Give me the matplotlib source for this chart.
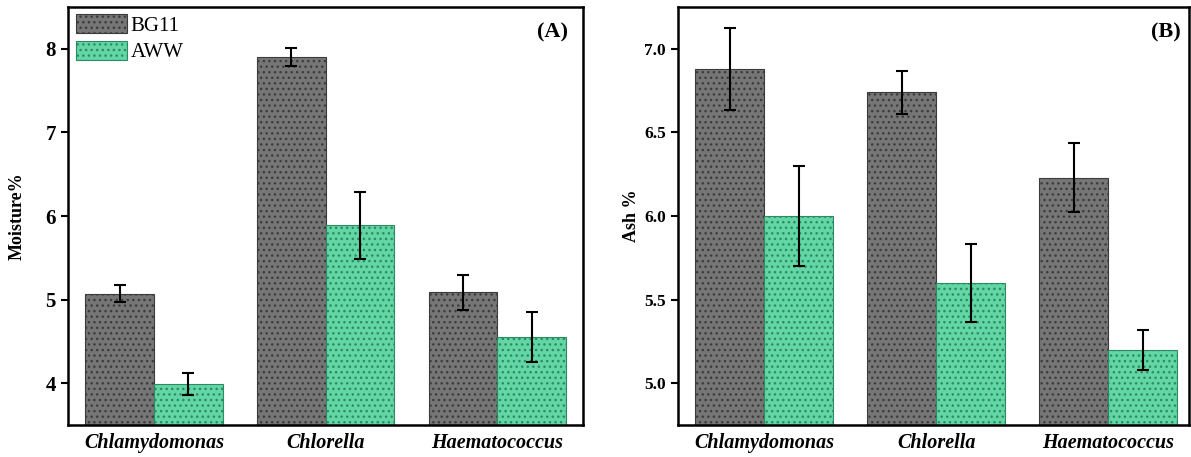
import matplotlib
matplotlib.use("Agg")
import matplotlib.pyplot as plt
import numpy as np
from matplotlib.patches import Patch

plt.rcParams['font.family'] = ['Liberation Serif', 'DejaVu Serif']
plt.rcParams['hatch.linewidth'] = 1.0

categories = ['Chlamydomonas', 'Chlorella', 'Haematococcus']
series_names = ['BG11', 'AWW']

moisture_bg11 = [5.07, 7.90, 5.09]
moisture_bg11_err = [0.10, 0.11, 0.21]
moisture_aww = [3.99, 5.89, 4.55]
moisture_aww_err = [0.13, 0.40, 0.30]

ash_bg11 = [6.88, 6.74, 6.23]
ash_bg11_err = [0.245, 0.13, 0.205]
ash_aww = [6.00, 5.60, 5.20]
ash_aww_err = [0.30, 0.235, 0.12]

moisture_ticks = [4, 5, 6, 7, 8]
ash_ticks = [5.0, 5.5, 6.0, 6.5, 7.0]

face = ['#767676', '#62d6a4']
edge = ['#3c3c3c', '#2e8a62']

W, H = 1191, 457
fig = plt.figure(figsize=(W / 100, H / 100), dpi=100)

def frac(x0, x1, ytop, ybot):
    return [x0 / W, 1 - ybot / H, (x1 - x0) / W, (ybot - ytop) / H]

axA = fig.add_axes(frac(68.3, 583, 7, 425))
axB = fig.add_axes(frac(678.3, 1189, 7, 425))

x = np.arange(len(categories))
bw = 0.4

def draw(ax, v1, e1, v2, e2, ylim, ticks, ticklabels, ylabel, tag, tick_fs, xlim,
         label_x, tag_x):
    for i, (vals, errs) in enumerate([(v1, e1), (v2, e2)]):
        pos = x - bw / 2 + i * bw
        ax.bar(pos, vals, width=bw, color=face[i], edgecolor=edge[i],
               hatch='...', linewidth=0.8, zorder=2)
        ax.errorbar(pos, vals, yerr=errs, fmt='none', ecolor='black',
                    elinewidth=1.5, capsize=4, capthick=1.5, zorder=3)
    ax.set_ylim(*ylim)
    ax.set_xlim(*xlim)
    ax.set_yticks(ticks)
    ax.set_yticklabels(ticklabels, fontsize=tick_fs, fontweight='bold')
    ax.set_xticks(x)
    ax.set_xticklabels(categories, fontsize=14.5, fontweight='bold', style='italic')
    ax.tick_params(axis='x', length=0, pad=6)
    ax.tick_params(axis='y', direction='out', length=5, width=1.5, pad=4)
    for s in ax.spines.values():
        s.set_linewidth(1.8)
    ax.set_ylabel(ylabel, fontsize=13, fontweight='bold')
    ax.yaxis.set_label_coords(label_x, 0.5)
    ax.text(tag_x, 0.94, tag, transform=ax.transAxes, ha='right', va='center',
            fontsize=16, fontweight='bold')

draw(axA, moisture_bg11, moisture_bg11_err, moisture_aww, moisture_aww_err,
     (3.5, 8.5), moisture_ticks, [str(t) for t in moisture_ticks], 'Moisture%', '(A)', 15,
     (-0.5, 2.5), -0.082, 0.971)
draw(axB, ash_bg11, ash_bg11_err, ash_aww, ash_aww_err,
     (4.75, 7.25), ash_ticks, ['%.1f' % t for t in ash_ticks], 'Ash %', '(B)', 12.5,
     (-0.5, 2.47), -0.075, 0.984)

handles = [Patch(facecolor=face[i], edgecolor=edge[i], hatch='...', linewidth=0.8)
           for i in range(2)]
axA.legend(handles, series_names, loc='upper left', bbox_to_anchor=(0.0, 1.0),
           frameon=False, fontsize=15, handlelength=2.45, handleheight=1.0,
           handletextpad=0.2, labelspacing=0.25, borderaxespad=0.25, borderpad=0.1)

fig.savefig('out.png', dpi=100)
